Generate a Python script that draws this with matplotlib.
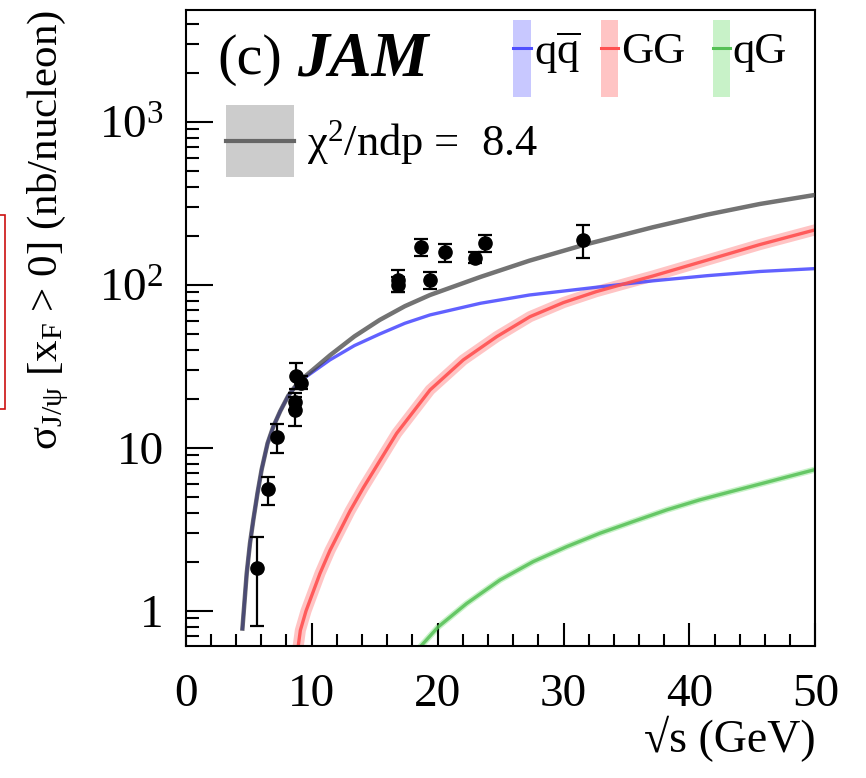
"""J/psi cross section vs sqrt(s): JAM fit decomposition into qqbar, GG, qG channels."""

import matplotlib

matplotlib.use("Agg")
import matplotlib.pyplot as plt
import numpy as np
from matplotlib.patches import Rectangle
from matplotlib.lines import Line2D
from matplotlib.ticker import LogLocator, NullFormatter, FixedLocator, FuncFormatter

plt.rcParams["font.family"] = ["Liberation Serif", "DejaVu Serif"]
plt.rcParams["mathtext.fontset"] = "custom"
plt.rcParams["mathtext.rm"] = "Liberation Serif"
plt.rcParams["mathtext.it"] = "Liberation Serif:italic"
plt.rcParams["mathtext.bf"] = "Liberation Serif:bold"

# data points
data_x = [5.63, 6.55, 7.22, 8.67, 8.67, 8.75, 9.13, 16.83, 16.83, 18.68, 19.4, 20.6, 22.97, 23.76, 31.57]
data_y = [1.83, 5.58, 11.6, 17.1, 19.2, 27.7, 25.2, 107, 100, 170, 107, 159, 147, 180, 189]
data_lo = [0.81, 4.47, 9.36, 13.6, 17.0, 23.0, 23.0, 91, 90, 151, 94, 138, 136, 159, 147]
data_hi = [2.86, 6.67, 14.0, 20.5, 21.8, 33.1, 27.5, 124, 112, 192, 120, 179, 159, 203, 233]

# total fit (gray)
tot_x = [4.5, 4.84, 5.1, 5.36, 5.7, 6.03, 6.5, 6.95, 7.5, 8.14, 8.8, 9.6, 11.45, 13.4, 15.4, 17.4,
         19.4, 23.4, 27.3, 31.6, 37.1, 41.4, 45.6, 50.0]
tot_y = [0.78, 1.70, 2.6, 3.6, 5.3, 7.4, 10.7, 13.5, 16.8, 20.9, 24.5, 28.0, 37.0, 48.4, 61.0, 74.1,
         86.8, 112, 141, 176, 226, 270, 314, 357]

# q qbar channel (blue)
qq_x = [4.5, 4.84, 5.1, 5.36, 5.7, 6.03, 6.5, 6.95, 7.5, 8.14, 8.8, 9.6, 11.45, 13.4, 15.4, 17.4,
        19.4, 23.4, 27.3, 32.6, 37.1, 41.4, 45.6, 50.0]
qq_y = [0.78, 1.70, 2.6, 3.6, 5.3, 7.4, 10.7, 13.5, 16.8, 20.9, 24.3, 27.5, 34.7, 42.5, 50.0, 58.2,
        65.5, 77.2, 86.8, 96.8, 106, 114, 121, 126]

# GG channel (red)
gg_x = [8.92, 9.1, 9.55, 10.66, 11.45, 13.04, 14.1, 16.75, 19.4, 22.04, 24.7, 27.34, 30.0, 32.6,
        35.3, 37.1, 41.4, 45.6, 50.0]
gg_y = [0.6, 0.76, 1.0, 1.70, 2.35, 4.1, 5.7, 12.3, 22.7, 34.7, 48.2, 63.9, 78, 91,
        104, 113.5, 142, 177, 218]

# qG channel (green)
qg_x = [18.6, 20.06, 22.3, 24.96, 27.6, 30.25, 32.9, 35.5, 38.2, 40.8, 43.5, 46.1, 50.0]
qg_y = [0.6, 0.80, 1.11, 1.55, 2.01, 2.48, 3.0, 3.53, 4.17, 4.8, 5.45, 6.15, 7.38]

chi2_text = "χ$^{2}$/ndp =  8.4"

blue, blue_band = "#5050ff", "#c8c8ff"
red, red_band = "#ff5050", "#ffc4c4"
green, green_band = "#55c055", "#c8f2c8"
gray, gray_band = "#444444", "#cccccc"

fig = plt.figure(figsize=(8.66, 7.78), dpi=100)
ax = fig.add_axes([0.2145, 0.1697, 0.727, 0.8174])

# bands drawn as wide translucent strokes behind the central lines
ax.plot(gg_x, gg_y, color=red_band, lw=8, solid_capstyle="butt", zorder=1)
ax.plot(qg_x, qg_y, color=green_band, lw=4.5, solid_capstyle="butt", zorder=1)
ax.plot(qq_x, qq_y, color=blue, lw=2.4, alpha=0.9, zorder=2)
ax.plot(gg_x, gg_y, color=red, lw=2.4, alpha=0.9, zorder=2)
ax.plot(qg_x, qg_y, color=green, lw=2.4, alpha=0.85, zorder=2)
ax.plot(tot_x, tot_y, color=gray, lw=3.2, alpha=0.75, zorder=3)

yerr = [np.array(data_y) - np.array(data_lo), np.array(data_hi) - np.array(data_y)]
ax.errorbar(data_x, data_y, yerr=yerr, fmt="o", color="black", ms=9.5, elinewidth=1.6,
            capsize=5, capthick=1.6, zorder=5)

ax.set_yscale("log")
ax.set_xlim(0, 50)
ax.set_ylim(0.61, 4860)

ax.xaxis.set_major_locator(FixedLocator([0, 10, 20, 30, 40, 50]))
ax.xaxis.set_minor_locator(FixedLocator(np.arange(0, 51, 2)))
ax.yaxis.set_major_locator(FixedLocator([1, 10, 100, 1000]))
ax.yaxis.set_minor_locator(LogLocator(base=10, subs=np.arange(2, 10)))
ax.yaxis.set_minor_formatter(NullFormatter())
ylabels = {1: "1", 10: "10", 100: r"$10^{2}$", 1000: r"$10^{3}$"}
ax.yaxis.set_major_formatter(FuncFormatter(lambda v, p: ylabels.get(int(round(v)), "")))

ax.tick_params(axis="both", which="both", direction="in", top=False, right=False, width=1.5,
               labelsize=34)
ax.tick_params(axis="x", which="major", length=16.5, pad=20)
ax.tick_params(axis="x", which="minor", length=8.5)
ax.tick_params(axis="y", which="major", length=19.5, pad=16)
ax.tick_params(axis="y", which="minor", length=9)
for sp in ax.spines.values():
    sp.set_linewidth(1.5)

ax.set_xlabel("√s (GeV)", fontsize=33, loc="right", labelpad=0)
ax.set_ylabel("σ$_{\\mathrm{J/ψ}}$ [x$_{\\mathrm{F}}$ > 0] (nb/nucleon)", fontsize=31, loc="top",
              labelpad=20)

# panel tag
ax.text(0.0496, 0.921, "(c)", transform=ax.transAxes, fontsize=42, va="center", ha="left")
ax.text(0.177, 0.921, "JAM", transform=ax.transAxes, fontsize=46, va="center", ha="left",
        fontweight="bold", style="italic")

# channel legend, ROOT style
for x0, w, band, col, lab in [(0.520, 0.029, blue_band, blue, r"q$\overline{\mathrm{q}}$"),
                              (0.660, 0.027, red_band, red, "GG"),
                              (0.838, 0.027, green_band, green, "qG")]:
    ax.add_patch(Rectangle((x0, 0.863), w, 0.121, transform=ax.transAxes, facecolor=band,
                           edgecolor="none", zorder=6))
    ax.add_line(Line2D([x0, x0 + w], [0.941, 0.941], transform=ax.transAxes, color=col, lw=2.2, zorder=7))
    ax.text(x0 + w + 0.004, 0.934, lab, transform=ax.transAxes, fontsize=32, va="center", ha="left")

ax.add_patch(Rectangle((0.0638, 0.737), 0.108, 0.114, transform=ax.transAxes, facecolor=gray_band,
                       edgecolor="none", zorder=6))
ax.add_line(Line2D([0.0638, 0.1718], [0.7945, 0.7945], transform=ax.transAxes, color="#666666", lw=3,
                   zorder=7))
ax.text(0.193, 0.792, chi2_text, transform=ax.transAxes, fontsize=32, va="center", ha="left")

# stray red frame at the left edge of the original image
fig.add_artist(Rectangle((-0.01, 369 / 778), 0.01 + 5 / 866, 194 / 778, transform=fig.transFigure,
                         facecolor="none", edgecolor="#cc1111", lw=1.2))

fig.savefig("out.png", dpi=100)
